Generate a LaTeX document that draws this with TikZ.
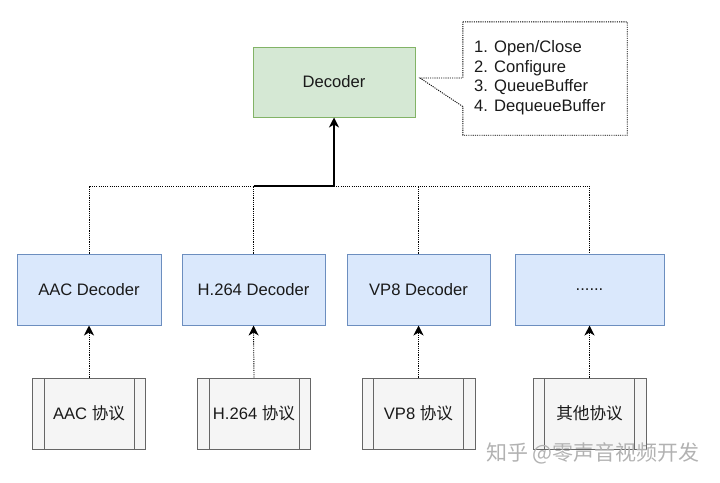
\documentclass[tikz,border=0pt]{standalone}
\usepackage{fontspec}
\setmainfont{Liberation Sans}
\newfontfamily\cjk{Noto Sans CJK SC}
\usetikzlibrary{arrows.meta}
\definecolor{gfill}{HTML}{D5E8D4}
\definecolor{gline}{HTML}{82B366}
\definecolor{bfill}{HTML}{DAE8FC}
\definecolor{bline}{HTML}{6C8EBF}
\definecolor{pfill}{HTML}{F5F5F5}
\definecolor{pline}{HTML}{666666}
\definecolor{txt}{HTML}{1A1A1A}
\tikzset{
  base/.style={inner sep=0pt, text=txt, font=\fontsize{16.6}{19.5}\selectfont},
  decbox/.style={base, draw=gline, fill=gfill, line width=1pt, minimum width=162pt, minimum height=70pt},
  codec/.style={base, draw=bline, fill=bfill, line width=1pt, minimum height=71pt},
  proc/.style={base, draw=pline, fill=pfill, line width=1pt, minimum width=113pt, minimum height=71pt,
    path picture={
      \draw[pline, line width=1pt] ([xshift=11.5pt]path picture bounding box.north west) -- ([xshift=11.5pt]path picture bounding box.south west);
      \draw[pline, line width=1pt] ([xshift=-11.5pt]path picture bounding box.north east) -- ([xshift=-11.5pt]path picture bounding box.south east);
    }},
  dotline/.style={line width=0.9pt, dash pattern=on 1.1pt off 1.1pt, black},
  dotarrow/.style={dotline, -{Stealth[length=10pt, width=10pt, inset=3pt]}},
  solidarrow/.style={line width=1.3pt, black, -{Stealth[length=10pt, width=10pt, inset=3pt]}},
}
\begin{document}
\begin{tikzpicture}[x=1pt, y=-1pt]
\useasboundingbox (0,0) rectangle (720,482);
% top
\node[decbox] (dec) at (334,82) {Decoder};
\node[base, minimum width=164pt, minimum height=113pt] (note) at (545,78.5) {};
\node[base, anchor=west, align=left] (notetext) at (474,77.5) {1. Open/Close\\2. Configure\\3. QueueBuffer\\4. DequeueBuffer};
\coordinate (tip) at (420,78);
\draw[dotline] (note.north west) -- (note.north east) -- (note.south east) -- (note.south west)
  -- ([yshift=-28pt]note.south west |- note.west) -- (tip) -- (note.west |- tip) -- cycle;
% codecs
\node[codec, minimum width=144pt] (b1) at (89,289.5) {AAC Decoder};
\node[codec, minimum width=143pt] (b2) at (253.5,289.5) {H.264 Decoder};
\node[codec, minimum width=143pt] (b3) at (418.5,289.5) {VP8 Decoder};
\node[codec, minimum width=149pt] (b4) at (589.5,289.5) {......};
% protocols
\node[proc] (p1) at (89,413.5) {AAC {\cjk 协议}};
\node[proc] (p2) at (254,413.5) {H.264 {\cjk 协议}};
\node[proc] (p3) at (418.5,413.5) {VP8 {\cjk 协议}};
\node[proc] (p4) at (589.5,413.5) {\cjk 其他协议};
% bus
\coordinate (bus) at (334,186);
\draw[dotline] (b1.north) |- (bus) -| (b4.north);
\draw[dotline] (b2.north) -- (b2.north |- bus);
\draw[dotline] (b3.north) -- (b3.north |- bus);
\draw[solidarrow] (b2.north |- bus) -- (bus) -- (dec.south);
% protocol arrows
\foreach \i in {1,2,3,4} {
  \draw[dotarrow] (p\i.north) -- (b\i.south);
}
% watermark
\node[inner sep=0pt, text=black!30, font=\cjk\fontsize{21}{24}\selectfont] (wm) at (593,453) {知乎 @零声音视频开发};
\end{tikzpicture}
\end{document}
